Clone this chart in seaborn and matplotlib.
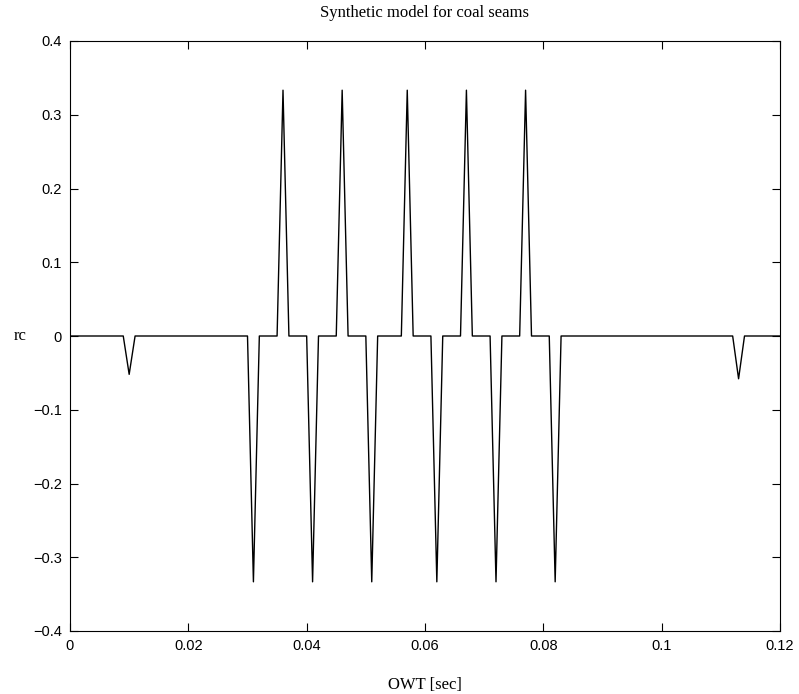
import numpy as np
import pandas as pd
import matplotlib
matplotlib.use("Agg")
import matplotlib.pyplot as plt
import seaborn as sns

# Data: reflection-coefficient spikes on a 1 ms grid
dt = 0.001
t_start, t_end = 0.0, 0.12
spike_times = [0.010, 0.031, 0.036, 0.041, 0.046, 0.051, 0.057, 0.062,
               0.067, 0.072, 0.077, 0.082, 0.113]
spike_values = [-0.052, -0.3333, 0.3333, -0.3333, 0.3333, -0.3333, 0.3333,
                -0.3333, 0.3333, -0.3333, 0.3333, -0.3333, -0.058]
x_ticks = [0, 0.02, 0.04, 0.06, 0.08, 0.1, 0.12]
x_ticklabels = ["0", "0.02", "0.04", "0.06", "0.08", "0.1", "0.12"]
y_ticks = [-0.4, -0.3, -0.2, -0.1, 0, 0.1, 0.2, 0.3, 0.4]
y_ticklabels = ["\u22120.4", "\u22120.3", "\u22120.2", "\u22120.1", "0",
                "0.1", "0.2", "0.3", "0.4"]

n = int(round((t_end - t_start) / dt)) + 1
t = np.round(t_start + dt * np.arange(n), 6)
rc = np.zeros(n)
for ts, v in zip(spike_times, spike_values):
    rc[int(round((ts - t_start) / dt))] = v
df = pd.DataFrame({"OWT": t, "rc": rc})

sns.set_theme(style="white")
plt.rcParams["font.family"] = ["Liberation Sans", "DejaVu Sans"]

fig = plt.figure(figsize=(7.99, 6.94), dpi=100)
ax = fig.add_axes([70 / 799, 1 - 631 / 694, 710 / 799, 590 / 694])
sns.lineplot(data=df, x="OWT", y="rc", ax=ax, color="black", linewidth=1.0,
             legend=False)

ax.set_xlim(0, 0.12)
ax.set_ylim(-0.4, 0.4)
ax.set_xticks(x_ticks)
ax.set_xticklabels(x_ticklabels)
ax.set_yticks(y_ticks)
ax.set_yticklabels(y_ticklabels)
ax.tick_params(direction="in", top=True, right=True, bottom=True, left=True,
               length=6, width=0.8, color="black", labelsize=10.5, pad=6,
               labelcolor="black")
for s in ax.spines.values():
    s.set_color("black")
    s.set_linewidth(0.8)
    s.set_visible(True)

serif = ["Liberation Serif", "DejaVu Serif"]
ax.set_title("Synthetic model for coal seams", family=serif, fontsize=12,
             pad=17, color="black")
ax.set_xlabel("OWT [sec]", family=serif, fontsize=12, labelpad=17,
              color="black")
ax.set_ylabel("rc", family=serif, fontsize=12, rotation=0, color="black",
              va="center", ha="center")
ax.yaxis.set_label_coords(-50 / 710, 0.5)

fig.savefig("out.png", dpi=100, facecolor="white")
